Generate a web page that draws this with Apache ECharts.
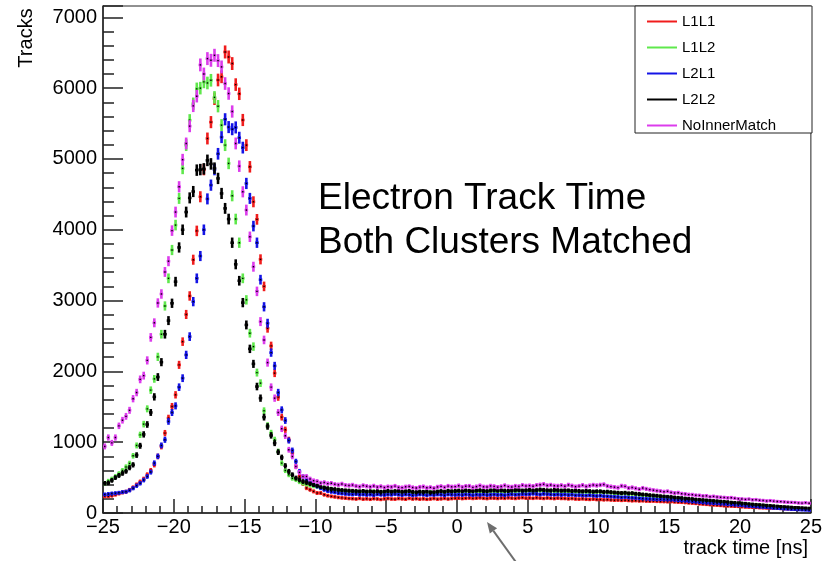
<!DOCTYPE html>
<html>
<head>
<meta charset="utf-8">
<script src="https://cdn.jsdelivr.net/npm/echarts@6/dist/echarts.min.js"></script>
<style>
  html, body { margin: 0; padding: 0; background: #ffffff; }
  #chart { width: 825px; height: 561px; }
</style>
</head>
<body>
<div id="chart"></div>
<script>
// Histogram binning: 200 bins of 0.25 ns from -25 ns to 25 ns
const binLow = -25;
const binWidth = 0.25;

const seriesNames = ['L1L1', 'L1L2', 'L2L1', 'L2L2', 'NoInnerMatch'];
const seriesColors = ['#f01c1c', '#5fe84c', '#1414e6', '#000000', '#dc3cec'];

// Bin contents (tracks per bin)
const L1L1 = [
  235, 235, 244, 258, 275, 290, 300, 325, 360, 400,
  440, 480, 540, 600, 681, 799, 940, 1128, 1340, 1504,
  1669, 2092, 2420, 2804, 3065, 3577, 3984, 4466, 4850, 5289,
  5520, 5850, 6115, 6160, 6511, 6440, 6347, 6050, 5920, 5550,
  5195, 4889, 4395, 4147, 3582, 3200, 2609, 2360, 1975, 1636,
  1354, 1175, 1034, 846, 657, 516, 413, 353, 329, 305,
  282, 282, 258, 245, 235, 228, 220, 214, 210, 205,
  202, 198, 206, 196, 200, 194, 202, 198, 192, 200,
  205, 198, 196, 204, 200, 195, 206, 198, 202, 196,
  200, 194, 198, 204, 196, 200, 206, 198, 204, 208,
  210, 204, 208, 212, 206, 210, 214, 208, 204, 212,
  210, 206, 212, 208, 214, 210, 206, 212, 216, 210,
  212, 208, 214, 210, 206, 212, 208, 204, 210, 206,
  205, 200, 204, 198, 196, 200, 194, 192, 196, 190,
  190, 186, 188, 184, 180, 182, 178, 180, 176, 172,
  174, 170, 172, 168, 166, 168, 164, 162, 160, 158,
  160, 156, 152, 150, 146, 142, 138, 134, 128, 124,
  120, 116, 112, 108, 104, 100, 98, 95, 92, 90,
  86, 82, 80, 78, 75, 72, 70, 68, 66, 64,
  62, 60, 58, 56, 54, 52, 50, 48, 47, 45
];

const L1L2 = [
  420, 450, 480, 515, 555, 600, 650, 700, 808, 954,
  1104, 1255, 1471, 1735, 1894, 2205, 2525, 2924, 3314, 3714,
  4066, 4443, 4866, 5195, 5547, 5780, 5990, 6000, 6088, 6073,
  6111, 5870, 5745, 5477, 5195, 4937, 4480, 4151, 3817, 3314,
  3010, 2539, 2350, 1983, 1834, 1443, 1236, 1130, 1034, 869,
  705, 600, 540, 490, 470, 440, 420, 405, 392, 380,
  372, 360, 350, 342, 336, 325, 320, 315, 310, 305,
  300, 306, 298, 302, 295, 300, 304, 292, 298, 296,
  300, 294, 298, 302, 290, 296, 300, 288, 284, 292,
  290, 286, 294, 288, 296, 300, 292, 304, 298, 302,
  305, 298, 308, 300, 302, 310, 304, 298, 306, 310,
  305, 302, 308, 300, 306, 310, 304, 312, 306, 310,
  315, 308, 312, 318, 310, 306, 312, 304, 300, 306,
  300, 304, 298, 302, 296, 300, 294, 298, 292, 296,
  300, 290, 292, 286, 280, 276, 272, 278, 268, 270,
  262, 256, 252, 246, 242, 236, 230, 226, 222, 218,
  215, 208, 204, 198, 194, 190, 186, 180, 176, 172,
  168, 164, 160, 155, 150, 146, 142, 138, 132, 128,
  124, 118, 114, 108, 104, 100, 96, 92, 88, 84,
  80, 76, 72, 70, 66, 62, 60, 58, 55, 52
];

const L2L1 = [
  262, 268, 275, 280, 285, 295, 300, 320, 350, 385,
  420, 465, 516, 578, 705, 800, 954, 1034, 1293, 1419,
  1513, 1777, 1904, 2233, 2491, 2985, 3314, 3629, 4000, 4436,
  4630, 4850, 5073, 5308, 5560, 5450, 5420, 5445, 5300, 5160,
  4654, 4443, 4052, 3817, 3295, 2912, 2680, 2265, 2078, 1701,
  1457, 1306, 1024, 883, 728, 587, 516, 470, 432, 400,
  376, 353, 329, 312, 300, 292, 282, 275, 270, 266,
  262, 268, 258, 262, 256, 260, 252, 264, 258, 255,
  262, 258, 266, 260, 254, 262, 258, 250, 256, 262,
  258, 252, 260, 255, 262, 258, 250, 262, 258, 256,
  260, 254, 262, 258, 252, 260, 256, 262, 254, 258,
  262, 256, 258, 252, 260, 264, 258, 262, 268, 264,
  266, 272, 268, 262, 270, 266, 262, 258, 262, 256,
  260, 254, 258, 250, 252, 248, 246, 250, 244, 240,
  244, 238, 236, 232, 228, 226, 220, 224, 218, 214,
  212, 208, 204, 200, 198, 196, 192, 194, 190, 188,
  188, 184, 180, 176, 172, 168, 162, 158, 152, 148,
  144, 140, 136, 134, 130, 127, 122, 118, 114, 110,
  106, 100, 96, 92, 88, 85, 80, 76, 72, 68,
  64, 60, 56, 54, 50, 47, 44, 42, 40, 37
];

const L2L2 = [
  420, 425, 460, 500, 530, 560, 590, 640, 680, 818,
  949, 1110, 1250, 1420, 1640, 1920, 2130, 2525, 2717, 2962,
  3267, 3750, 4000, 4250, 4450, 4540, 4842, 4850, 4860, 4980,
  4930, 4870, 4725, 4513, 4302, 4151, 3817, 3512, 3280, 2971,
  2656, 2318, 2106, 1786, 1622, 1354, 1222, 1095, 987, 860,
  785, 667, 587, 540, 494, 470, 446, 432, 415, 398,
  385, 370, 358, 348, 340, 335, 328, 322, 318, 315,
  312, 308, 305, 310, 302, 306, 300, 308, 298, 304,
  310, 302, 308, 312, 300, 305, 310, 298, 295, 302,
  298, 304, 292, 296, 302, 308, 300, 312, 306, 310,
  315, 308, 318, 312, 310, 316, 320, 312, 308, 318,
  322, 316, 320, 315, 312, 318, 322, 325, 316, 320,
  326, 318, 322, 330, 326, 320, 318, 324, 322, 316,
  320, 318, 312, 316, 310, 306, 312, 308, 302, 306,
  305, 298, 300, 294, 290, 286, 282, 285, 278, 280,
  272, 268, 262, 258, 252, 248, 244, 238, 234, 230,
  226, 220, 216, 212, 206, 202, 198, 192, 188, 184,
  180, 176, 172, 168, 164, 160, 156, 150, 146, 142,
  138, 134, 128, 124, 120, 116, 112, 108, 104, 100,
  96, 92, 88, 85, 82, 78, 76, 73, 70, 68
];

const NoInnerMatch = [
  940, 1066, 990, 1066, 1231, 1310, 1365, 1450, 1614, 1701,
  1887, 1940, 2155, 2480, 2686, 2966, 3093, 3404, 3556, 3988,
  4250, 4607, 4990, 5219, 5463, 5749, 5886, 6328, 6200, 6417,
  6393, 6464, 6389, 6300, 6065, 5924, 5670, 5219, 4898, 4536,
  4278, 3901, 3478, 3130, 2703, 2444, 2124, 1777, 1622, 1419,
  1189, 1090, 893, 798, 657, 573, 516, 516, 480, 456,
  446, 423, 431, 415, 420, 405, 398, 410, 392, 388,
  395, 380, 372, 388, 378, 370, 382, 366, 375, 360,
  372, 368, 380, 362, 358, 370, 375, 360, 352, 366,
  372, 356, 362, 350, 368, 376, 362, 380, 370, 372,
  385, 366, 378, 380, 362, 372, 386, 370, 368, 382,
  376, 365, 374, 388, 372, 368, 380, 375, 392, 382,
  386, 378, 392, 398, 406, 388, 395, 384, 382, 390,
  378, 396, 384, 372, 380, 392, 375, 386, 395, 388,
  396, 402, 380, 372, 365, 358, 382, 376, 352, 360,
  348, 336, 352, 340, 330, 322, 315, 308, 300, 306,
  290, 282, 286, 272, 268, 260, 258, 250, 248, 240,
  242, 230, 234, 226, 222, 218, 214, 216, 208, 200,
  198, 192, 196, 186, 188, 180, 176, 170, 174, 168,
  162, 160, 156, 152, 150, 148, 142, 140, 145, 138
];

const seriesValues = [L1L1, L1L2, L2L1, L2L2, NoInnerMatch];

// Axis settings
const xMin = -25, xMax = 25, xStep = 5;
const yMin = 0, yMax = 7160, yStep = 1000, yMinorStep = 200;

const FONT = '"Liberation Sans", Arial, Helvetica, sans-serif';
const MINUS = '\u2212';

// Each bin: horizontal bar over the bin width, vertical sqrt(N) error bar, tiny black marker
function renderBin(params, api) {
  const x = api.value(0);
  const y = api.value(1);
  const err = Math.sqrt(y);
  const c = api.coord([x, y]);
  const hi = api.coord([x, y + err]);
  const lo = api.coord([x, y - err]);
  const halfW = api.size([binWidth, 0])[0] / 2;
  const color = api.visual('color');
  return {
    type: 'group',
    children: [
      { type: 'line', shape: { x1: c[0], y1: hi[1] - 0.8, x2: c[0], y2: lo[1] + 0.8 },
        style: { stroke: color, lineWidth: 2.6 } },
      { type: 'line', shape: { x1: c[0] - halfW, y1: c[1], x2: c[0] + halfW, y2: c[1] },
        style: { stroke: color, lineWidth: 2.6 } },
      { type: 'rect', shape: { x: c[0] - 0.7, y: c[1] - 0.7, width: 1.4, height: 1.4 },
        style: { fill: '#000000' } }
    ]
  };
}

const series = seriesNames.map((name, k) => ({
  name: name,
  type: 'custom',
  renderItem: renderBin,
  clip: true,
  xAxisIndex: 0,
  yAxisIndex: 0,
  encode: { x: 0, y: 1 },
  itemStyle: { color: seriesColors[k] },
  data: seriesValues[k].map((v, i) => [binLow + binWidth * (i + 0.5), v])
}));

const chart = echarts.init(document.getElementById('chart'), null, { renderer: 'canvas' });

const arrowTip = [487, 522];
const arrowTail = [518, 565];
const ah = (function () {
  const dx = arrowTip[0] - arrowTail[0], dy = arrowTip[1] - arrowTail[1];
  const len = Math.hypot(dx, dy);
  const ux = dx / len, uy = dy / len;
  const L = 11, W = 4.5;
  const bx = arrowTip[0] - ux * L, by = arrowTip[1] - uy * L;
  return { base: [bx, by], p1: [bx - uy * W, by + ux * W], p2: [bx + uy * W, by - ux * W] };
})();

chart.setOption({
  animation: false,
  backgroundColor: '#ffffff',
  grid: {
    left: 103, right: 12, top: 6, bottom: 48,
    show: true, borderColor: '#222222', borderWidth: 1, backgroundColor: 'transparent'
  },
  legend: {
    orient: 'vertical',
    left: 642, top: 9,
    itemWidth: 30, itemHeight: 2, itemGap: 11,
    icon: 'rect',
    selectedMode: false,
    textStyle: { fontSize: 15, color: '#000000', fontFamily: FONT, lineHeight: 15 },
    data: seriesNames
  },
  xAxis: {
    type: 'value',
    min: xMin, max: xMax, interval: xStep,
    axisLine: { onZero: false, lineStyle: { color: '#222222', width: 1.5 } },
    axisTick: { inside: true, length: 14, lineStyle: { color: '#222222', width: 1.5 } },
    minorTick: { show: true, splitNumber: 5, length: 7, lineStyle: { color: '#222222', width: 1.5 } },
    splitLine: { show: false },
    axisLabel: {
      fontSize: 20, color: '#000000', fontFamily: FONT, margin: 4,
      formatter: v => (v < 0 ? MINUS + (-v) : String(v))
    }
  },
  yAxis: [
    {
      type: 'value',
      position: 'left',
      min: yMin, max: yMax, interval: yStep,
      axisLine: { show: true, onZero: false, lineStyle: { color: '#222222', width: 1.5 } },
      axisTick: { show: true, inside: true, length: 20, lineStyle: { color: '#222222', width: 1.5 } },
      splitLine: { show: false },
      axisLabel: {
        fontSize: 20, color: '#000000', fontFamily: FONT, margin: 6,
        formatter: v => (v % yStep === 0 ? String(v) : '')
      }
    },
    {
      // minor ticks every 200 tracks
      type: 'value',
      position: 'left', offset: 0,
      min: yMin, max: yMax, interval: yMinorStep,
      axisLine: { show: false, onZero: false },
      axisTick: { show: true, inside: true, length: 11, lineStyle: { color: '#222222', width: 1.5 } },
      splitLine: { show: false },
      axisLabel: { show: false }
    }
  ],
  graphic: [
    {
      type: 'rect',
      shape: { x: 635, y: 6, width: 177, height: 127 },
      style: { fill: '#ffffff', stroke: '#222222', lineWidth: 1 },
      z: 3
    },
    {
      type: 'text',
      x: 26, y: 38, rotation: Math.PI / 2,
      style: { text: 'Tracks', fontSize: 20, fontFamily: FONT, fill: '#000000',
               align: 'center', verticalAlign: 'middle' }
    },
    {
      type: 'text',
      x: 808, y: 548,
      style: { text: 'track time [ns]', fontSize: 20, fontFamily: FONT, fill: '#000000',
               align: 'right', verticalAlign: 'middle' }
    },
    {
      type: 'text',
      x: 318, y: 199,
      style: { text: 'Electron Track Time', fontSize: 37, fontFamily: FONT, fill: '#000000',
               align: 'left', verticalAlign: 'middle' }
    },
    {
      type: 'text',
      x: 318, y: 243,
      style: { text: 'Both Clusters Matched', fontSize: 37, fontFamily: FONT, fill: '#000000',
               align: 'left', verticalAlign: 'middle' }
    },
    {
      type: 'line',
      shape: { x1: arrowTail[0], y1: arrowTail[1], x2: ah.base[0], y2: ah.base[1] },
      style: { stroke: '#6e6e6e', lineWidth: 2 }
    },
    {
      type: 'polygon',
      shape: { points: [arrowTip, ah.p1, ah.p2] },
      style: { fill: '#6e6e6e' }
    }
  ],
  series: series
});
</script>
</body>
</html>
